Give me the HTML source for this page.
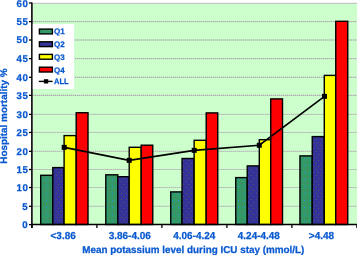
<!DOCTYPE html>
<html><head><meta charset="utf-8"><style>
html,body{margin:0;padding:0;background:#fff;width:357px;height:255px;overflow:hidden}
svg{position:absolute;left:0;top:0;will-change:transform}
text{font-family:"Liberation Sans",sans-serif;font-weight:bold;fill:#0858d0;stroke:#0858d0;stroke-width:0.25px;text-rendering:geometricPrecision}
</style></head><body>
<svg width="357" height="255" viewBox="0 0 357 255">

<defs>
<pattern id="pg" width="6" height="7" patternUnits="userSpaceOnUse">
<rect width="6" height="7" fill="#339966"/>
<rect x="1" y="1" width="1" height="1" fill="#6a6a58"/>
<rect x="4" y="4" width="1" height="1" fill="#3c8cf0"/>
</pattern>
<pattern id="pn" width="5" height="6" patternUnits="userSpaceOnUse">
<rect width="5" height="6" fill="#333399"/>
<rect x="1" y="1" width="1" height="1" fill="#5a5060"/>
<rect x="3" y="4" width="1" height="1" fill="#5a5060"/>
</pattern>
</defs>
<rect x="33" y="3" width="324" height="221.8" fill="#ccffcc"/>
<line x1="33" y1="3.3" x2="357" y2="3.3" stroke="#bcbcbc" stroke-width="1"/>
<line x1="33" y1="206.30" x2="357" y2="206.30" stroke="#c0d0c0" stroke-width="1"/>
<line x1="33" y1="206.30" x2="357" y2="206.30" stroke="#b4b8b8" stroke-width="1" stroke-dasharray="1 1"/>
<line x1="33" y1="187.50" x2="357" y2="187.50" stroke="#c0d0c0" stroke-width="1"/>
<line x1="33" y1="187.50" x2="357" y2="187.50" stroke="#b4b8b8" stroke-width="1" stroke-dasharray="1 1"/>
<line x1="33" y1="169.50" x2="357" y2="169.50" stroke="#c0d0c0" stroke-width="1"/>
<line x1="33" y1="169.50" x2="357" y2="169.50" stroke="#b4b8b8" stroke-width="1" stroke-dasharray="1 1"/>
<line x1="33" y1="151.30" x2="357" y2="151.30" stroke="#c0d0c0" stroke-width="1"/>
<line x1="33" y1="151.30" x2="357" y2="151.30" stroke="#b4b8b8" stroke-width="1" stroke-dasharray="1 1"/>
<line x1="33" y1="132.45" x2="357" y2="132.45" stroke="#c0d0c0" stroke-width="1"/>
<line x1="33" y1="132.45" x2="357" y2="132.45" stroke="#b4b8b8" stroke-width="1" stroke-dasharray="1 1"/>
<line x1="33" y1="114.40" x2="357" y2="114.40" stroke="#c0d0c0" stroke-width="1"/>
<line x1="33" y1="114.40" x2="357" y2="114.40" stroke="#b4b8b8" stroke-width="1" stroke-dasharray="1 1"/>
<line x1="33" y1="95.35" x2="357" y2="95.35" stroke="#c0d0c0" stroke-width="1"/>
<line x1="33" y1="95.35" x2="357" y2="95.35" stroke="#a6a6ae" stroke-width="1" stroke-dasharray="1 1"/>
<line x1="33" y1="77.30" x2="357" y2="77.30" stroke="#c0d0c0" stroke-width="1"/>
<line x1="33" y1="77.30" x2="357" y2="77.30" stroke="#a6a6ae" stroke-width="1" stroke-dasharray="1 1"/>
<line x1="33" y1="58.65" x2="357" y2="58.65" stroke="#c0d0c0" stroke-width="1"/>
<line x1="33" y1="58.65" x2="357" y2="58.65" stroke="#a6a6ae" stroke-width="1" stroke-dasharray="1 1"/>
<line x1="33" y1="40.00" x2="357" y2="40.00" stroke="#c0d0c0" stroke-width="1"/>
<line x1="33" y1="40.00" x2="357" y2="40.00" stroke="#a6a6ae" stroke-width="1" stroke-dasharray="1 1"/>
<line x1="33" y1="21.60" x2="357" y2="21.60" stroke="#c0d0c0" stroke-width="1"/>
<line x1="33" y1="21.60" x2="357" y2="21.60" stroke="#a6a6ae" stroke-width="1" stroke-dasharray="1 1"/>
<rect x="40.70" y="175.30" width="12.10" height="49.20" fill="url(#pg)" stroke="#000" stroke-width="1.4"/>
<rect x="52.80" y="167.60" width="11.30" height="56.90" fill="url(#pn)" stroke="#000" stroke-width="1.4"/>
<rect x="64.10" y="135.60" width="12.10" height="88.90" fill="#ffff00" stroke="#000" stroke-width="1.4"/>
<rect x="76.20" y="112.70" width="11.80" height="111.80" fill="#ff0000" stroke="#000" stroke-width="1.4"/>
<rect x="105.80" y="174.80" width="12.00" height="49.70" fill="url(#pg)" stroke="#000" stroke-width="1.4"/>
<rect x="117.80" y="176.70" width="11.40" height="47.80" fill="url(#pn)" stroke="#000" stroke-width="1.4"/>
<rect x="129.20" y="147.30" width="12.00" height="77.20" fill="#ffff00" stroke="#000" stroke-width="1.4"/>
<rect x="141.20" y="145.20" width="11.55" height="79.30" fill="#ff0000" stroke="#000" stroke-width="1.4"/>
<rect x="170.75" y="191.90" width="11.30" height="32.60" fill="url(#pg)" stroke="#000" stroke-width="1.4"/>
<rect x="182.05" y="158.50" width="12.10" height="66.00" fill="url(#pn)" stroke="#000" stroke-width="1.4"/>
<rect x="194.15" y="140.30" width="12.05" height="84.20" fill="#ffff00" stroke="#000" stroke-width="1.4"/>
<rect x="206.20" y="112.90" width="11.55" height="111.60" fill="#ff0000" stroke="#000" stroke-width="1.4"/>
<rect x="235.75" y="177.60" width="11.50" height="46.90" fill="url(#pg)" stroke="#000" stroke-width="1.4"/>
<rect x="247.25" y="165.90" width="12.05" height="58.60" fill="url(#pn)" stroke="#000" stroke-width="1.4"/>
<rect x="259.30" y="139.70" width="11.45" height="84.80" fill="#ffff00" stroke="#000" stroke-width="1.4"/>
<rect x="270.75" y="98.90" width="11.75" height="125.60" fill="#ff0000" stroke="#000" stroke-width="1.4"/>
<rect x="299.95" y="155.90" width="12.30" height="68.60" fill="url(#pg)" stroke="#000" stroke-width="1.4"/>
<rect x="312.25" y="136.60" width="12.05" height="87.90" fill="url(#pn)" stroke="#000" stroke-width="1.4"/>
<rect x="324.30" y="75.40" width="11.45" height="149.10" fill="#ffff00" stroke="#000" stroke-width="1.4"/>
<rect x="335.75" y="21.30" width="12.00" height="203.20" fill="#ff0000" stroke="#000" stroke-width="1.4"/>
<polyline points="64.20,147.35 129.20,160.35 194.20,150.35 259.30,145.25 324.50,96.35" fill="none" stroke="#000" stroke-width="1.6"/>
<rect x="61.70" y="144.85" width="5" height="5" fill="#000"/>
<rect x="126.70" y="157.85" width="5" height="5" fill="#000"/>
<rect x="191.70" y="147.85" width="5" height="5" fill="#000"/>
<rect x="256.80" y="142.75" width="5" height="5" fill="#000"/>
<rect x="322.00" y="93.85" width="5" height="5" fill="#000"/>
<line x1="31.9" y1="2.4" x2="31.9" y2="228" stroke="#000" stroke-width="1.6"/>
<line x1="31" y1="224.50" x2="357" y2="224.50" stroke="#000" stroke-width="1.4"/>
<line x1="29" y1="224.60" x2="32" y2="224.60" stroke="#000" stroke-width="1.3"/>
<text x="27.7" y="228.05" font-size="9.7" text-anchor="end">0</text>
<line x1="29" y1="206.30" x2="32" y2="206.30" stroke="#000" stroke-width="1.3"/>
<text x="27.7" y="209.75" font-size="9.7" text-anchor="end">5</text>
<line x1="29" y1="187.50" x2="32" y2="187.50" stroke="#000" stroke-width="1.3"/>
<text x="16.4" y="190.95" font-size="9.7" textLength="11.5" lengthAdjust="spacing">10</text>
<line x1="29" y1="169.50" x2="32" y2="169.50" stroke="#000" stroke-width="1.3"/>
<text x="16.4" y="172.95" font-size="9.7" textLength="11.5" lengthAdjust="spacing">15</text>
<line x1="29" y1="151.30" x2="32" y2="151.30" stroke="#000" stroke-width="1.3"/>
<text x="16.4" y="154.75" font-size="9.7" textLength="11.5" lengthAdjust="spacing">20</text>
<line x1="29" y1="132.45" x2="32" y2="132.45" stroke="#000" stroke-width="1.3"/>
<text x="16.4" y="135.90" font-size="9.7" textLength="11.5" lengthAdjust="spacing">25</text>
<line x1="29" y1="114.40" x2="32" y2="114.40" stroke="#000" stroke-width="1.3"/>
<text x="16.4" y="117.85" font-size="9.7" textLength="11.5" lengthAdjust="spacing">30</text>
<line x1="29" y1="95.35" x2="32" y2="95.35" stroke="#000" stroke-width="1.3"/>
<text x="16.4" y="98.80" font-size="9.7" textLength="11.5" lengthAdjust="spacing">35</text>
<line x1="29" y1="77.30" x2="32" y2="77.30" stroke="#000" stroke-width="1.3"/>
<text x="16.4" y="80.75" font-size="9.7" textLength="11.5" lengthAdjust="spacing">40</text>
<line x1="29" y1="58.65" x2="32" y2="58.65" stroke="#000" stroke-width="1.3"/>
<text x="16.4" y="62.10" font-size="9.7" textLength="11.5" lengthAdjust="spacing">45</text>
<line x1="29" y1="40.00" x2="32" y2="40.00" stroke="#000" stroke-width="1.3"/>
<text x="16.4" y="43.45" font-size="9.7" textLength="11.5" lengthAdjust="spacing">50</text>
<line x1="29" y1="21.60" x2="32" y2="21.60" stroke="#000" stroke-width="1.3"/>
<text x="16.4" y="25.05" font-size="9.7" textLength="11.5" lengthAdjust="spacing">55</text>
<line x1="29" y1="3.00" x2="32" y2="3.00" stroke="#000" stroke-width="1.3"/>
<text x="16.4" y="7.00" font-size="9.7" textLength="11.5" lengthAdjust="spacing">60</text>
<line x1="31.90" y1="224.6" x2="31.90" y2="228" stroke="#000" stroke-width="1.3"/>
<line x1="96.90" y1="224.6" x2="96.90" y2="228" stroke="#000" stroke-width="1.3"/>
<line x1="161.90" y1="224.6" x2="161.90" y2="228" stroke="#000" stroke-width="1.3"/>
<line x1="226.90" y1="224.6" x2="226.90" y2="228" stroke="#000" stroke-width="1.3"/>
<line x1="291.90" y1="224.6" x2="291.90" y2="228" stroke="#000" stroke-width="1.3"/>
<line x1="356.90" y1="224.6" x2="356.90" y2="228" stroke="#000" stroke-width="1.3"/>
<text x="50.55" y="239.4" font-size="10.1" textLength="25.2" lengthAdjust="spacingAndGlyphs">&lt;3.86</text>
<text x="108.65" y="239.4" font-size="10.1" textLength="42.3" lengthAdjust="spacingAndGlyphs">3.86-4.06</text>
<text x="173.25" y="239.4" font-size="10.1" textLength="42.1" lengthAdjust="spacingAndGlyphs">4.06-4.24</text>
<text x="237.85" y="239.4" font-size="10.1" textLength="41.9" lengthAdjust="spacingAndGlyphs">4.24-4.48</text>
<text x="308.85" y="239.4" font-size="10.1" textLength="25.3" lengthAdjust="spacingAndGlyphs">&gt;4.48</text>
<text x="82.2" y="252.5" font-size="10" textLength="222.2" lengthAdjust="spacingAndGlyphs">Mean potassium level during ICU stay (mmol/L)</text>
<text transform="translate(7.4,116.2) rotate(-90)" x="-47.5" font-size="9.7" textLength="95.2" lengthAdjust="spacingAndGlyphs">Hospital mortality %</text>
<rect x="32.8" y="24" width="41.3" height="65" fill="#fff"/>
<rect x="39.4" y="29.10" width="13" height="4.8" fill="#339966" stroke="#000" stroke-width="1.4"/>
<text x="54.1" y="34.40" font-size="8">Q1</text>
<rect x="39.4" y="41.80" width="13" height="4.8" fill="#333399" stroke="#000" stroke-width="1.4"/>
<text x="54.1" y="47.10" font-size="8">Q2</text>
<rect x="39.4" y="54.40" width="13" height="4.8" fill="#ffff00" stroke="#000" stroke-width="1.4"/>
<text x="54.1" y="59.70" font-size="8">Q3</text>
<rect x="39.4" y="67.20" width="13" height="4.8" fill="#ff0000" stroke="#000" stroke-width="1.4"/>
<text x="54.1" y="72.50" font-size="8">Q4</text>
<line x1="38.8" y1="81.4" x2="52.6" y2="81.4" stroke="#000" stroke-width="1.4"/>
<rect x="43.9" y="79.2" width="4.3" height="4.3" fill="#000"/>
<text x="54.1" y="84.4" font-size="8" textLength="14.6" lengthAdjust="spacingAndGlyphs">ALL</text>
</svg></body></html>
